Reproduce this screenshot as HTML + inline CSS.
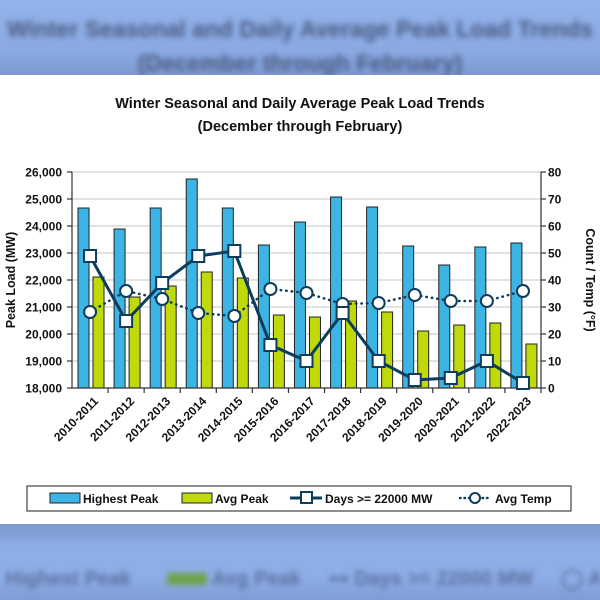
<!DOCTYPE html>
<html><head><meta charset="utf-8"><style>
html,body{margin:0;padding:0;}
body{width:600px;height:600px;overflow:hidden;position:relative;background:#8eaee6;font-family:"Liberation Sans",sans-serif;}
.bgtop{position:absolute;left:0;top:0;width:600px;height:75px;background:linear-gradient(#93b3ec,#8aa9e2 70%,#7d99cf);}
.bgbot{position:absolute;left:0;top:524px;width:600px;height:76px;background:linear-gradient(#7c97cc,#8eaee8 30%,#8eaee8 70%,#7f9dd6);}
.blur{position:absolute;filter:blur(3px);font-weight:bold;white-space:nowrap;overflow:hidden;}
.card{position:absolute;left:0;top:75px;width:600px;height:449px;background:#fff;}
svg{position:absolute;left:0;top:0;}
</style></head><body>
<div class="bgtop"></div>
<div class="blur" style="left:0;width:600px;text-align:center;top:12px;font-size:23px;color:#4a5a80;line-height:34px;">Winter Seasonal and Daily Average Peak Load Trends<br>(December through February)</div>
<div class="bgbot"></div>
<div class="blur" style="left:0;width:600px;top:566px;font-size:20px;color:#5a6e9c;">&nbsp;Highest Peak <span style="display:inline-block;width:40px;height:12px;background:#6fa24a;margin-left:30px"></span> Avg Peak &nbsp;&nbsp;&nbsp; ⊶ Days &gt;= 22000 MW &nbsp;&nbsp;&nbsp; ◯ Avg</div>
<div class="card"></div>
<svg width="600" height="600" font-family="Liberation Sans, sans-serif">
<text x="300" y="108" text-anchor="middle" font-size="14.5" font-weight="bold" fill="#111">Winter Seasonal and Daily Average Peak Load Trends</text>
<text x="300" y="131" text-anchor="middle" font-size="14.5" font-weight="bold" fill="#111">(December through February)</text>
<g stroke="#d9d9d9" stroke-width="1.5">
<line x1="72" x2="541" y1="172" y2="172"/><line x1="72" x2="541" y1="199" y2="199"/><line x1="72" x2="541" y1="226" y2="226"/><line x1="72" x2="541" y1="253" y2="253"/><line x1="72" x2="541" y1="280" y2="280"/><line x1="72" x2="541" y1="307" y2="307"/><line x1="72" x2="541" y1="334" y2="334"/><line x1="72" x2="541" y1="361" y2="361"/>
</g>
<g id="bars" stroke="#222" stroke-width="1"></g>
<g stroke="#333" stroke-width="1.2" fill="none">
<line x1="72" y1="172" x2="72" y2="388"/><line x1="541" y1="172" x2="541" y2="388"/><line x1="72" y1="388" x2="541" y2="388"/>
</g>
<g id="ticks" stroke="#333" stroke-width="1.2"></g>
<g id="labels" font-size="12" font-weight="bold" fill="#111"></g>
<polyline id="temp" fill="none" stroke="#0d3d5c" stroke-width="2.5" stroke-dasharray="0.5,5" stroke-linecap="round"/>
<polyline id="days" fill="none" stroke="#0d3d5c" stroke-width="3"/>
<g id="mk"></g>
<text transform="translate(15,280) rotate(-90)" text-anchor="middle" font-size="12.5" font-weight="bold" fill="#111">Peak Load (MW)</text>
<text transform="translate(586,280) rotate(90)" text-anchor="middle" font-size="12.5" font-weight="bold" fill="#111">Count / Temp (°F)</text>
<rect x="27" y="486" width="544" height="25" fill="#fff" stroke="#444" stroke-width="1.2"/>
<g font-size="12" font-weight="bold" fill="#111">
<rect x="50" y="493" width="30" height="10" fill="#3cb5e5" stroke="#222"/><text x="83" y="503">Highest Peak</text>
<rect x="182" y="493" width="30" height="10" fill="#c0d90a" stroke="#222"/><text x="215" y="503">Avg Peak</text>
<line x1="290" y1="498" x2="322" y2="498" stroke="#0d3d5c" stroke-width="3"/><rect x="301" y="492" width="11" height="11" fill="#fff" stroke="#0d3d5c" stroke-width="2"/><text x="325" y="503">Days &gt;= 22000 MW</text>
<line x1="460" y1="498" x2="491" y2="498" stroke="#0d3d5c" stroke-width="2.5" stroke-dasharray="0.5,4" stroke-linecap="round"/><circle cx="475" cy="498" r="5" fill="#fff" stroke="#0d3d5c" stroke-width="2"/><text x="495" y="503">Avg Temp</text>
</g>
</svg>
<script>
const ns="http://www.w3.org/2000/svg";
function el(p,t,a,txt){const e=document.createElementNS(ns,t);for(const k in a)e.setAttribute(k,a[k]);if(txt!==undefined)e.textContent=txt;document.getElementById(p).appendChild(e);return e;}
const hp=[208,229,208,179,208,245,222,197,207,246,265,247,243];
const ap=[277,297,286,272,278,315,317,301,312,331,325,323,344];
const dy=[256,321,283,256,251,345,361,313,361,380,378,361,383];
const tp=[312,291,299,313,316,289,293,304,303,295,301,301,291];
const yrs=["2010-2011","2011-2012","2012-2013","2013-2014","2014-2015","2015-2016","2016-2017","2017-2018","2018-2019","2019-2020","2020-2021","2021-2022","2022-2023"];
const w=469/13;
let dpts=[],tpts=[];
for(let i=0;i<13;i++){
 const x0=72+w*i, c=x0+w/2;
 el("bars","rect",{x:x0+6,y:hp[i],width:11,height:388-hp[i],fill:"#3cb5e5"});
 el("bars","rect",{x:x0+21,y:ap[i],width:11,height:388-ap[i],fill:"#c0d90a"});
 el("ticks","line",{x1:x0+w,x2:x0+w,y1:388,y2:393});
 const t=el("labels","text",{transform:`translate(${c+3},${396}) rotate(-45)`,"text-anchor":"end"},yrs[i]);
 t.setAttribute("dy","0.7em");
 dpts.push(c+","+dy[i]);tpts.push(c+","+tp[i]);
}
for(let k=0;k<=8;k++){const y=388-27*k;
 el("ticks","line",{x1:67,x2:72,y1:y,y2:y});el("ticks","line",{x1:541,x2:546,y1:y,y2:y});
 el("labels","text",{x:62,y:y+4.5,"text-anchor":"end"},(18+k)+",000");
 el("labels","text",{x:548,y:y+4.5},String(k*10));
}
document.getElementById("days").setAttribute("points",dpts.join(" "));
document.getElementById("temp").setAttribute("points",tpts.join(" "));
for(let i=0;i<13;i++){const c=72+w*i+w/2;
 el("mk","circle",{cx:c,cy:tp[i],r:6,fill:"#fff",stroke:"#0d3d5c","stroke-width":2});
 el("mk","rect",{x:c-6,y:dy[i]-6,width:12,height:12,fill:"#fff",stroke:"#0d3d5c","stroke-width":2});
}
</script>
</body></html>
